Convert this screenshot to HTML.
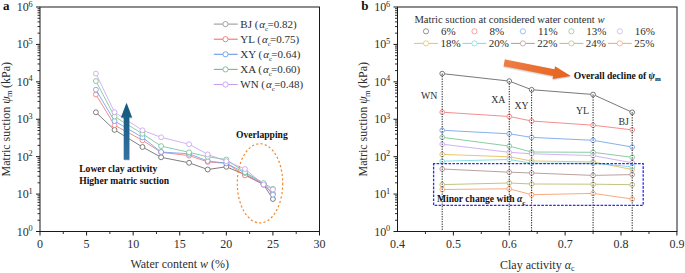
<!DOCTYPE html><html><head><meta charset="utf-8"><style>html,body{margin:0;padding:0;background:#fff;}svg{display:block;}</style></head><body>
<svg width="685" height="273" viewBox="0 0 685 273">
<rect width="685" height="273" fill="#fff"/>
<line x1="97.68" y1="113.98" x2="112.75" y2="128.22" stroke="#5e5e5e" stroke-width="0.8"/>
<line x1="116.62" y1="131.18" x2="140.39" y2="145.72" stroke="#5e5e5e" stroke-width="0.8"/>
<line x1="144.63" y1="148.19" x2="158.97" y2="156.11" stroke="#5e5e5e" stroke-width="0.8"/>
<line x1="163.52" y1="157.77" x2="186.66" y2="162.33" stroke="#5e5e5e" stroke-width="0.8"/>
<line x1="191.37" y1="163.63" x2="205.39" y2="168.67" stroke="#5e5e5e" stroke-width="0.8"/>
<line x1="210.12" y1="169.15" x2="223.91" y2="167.15" stroke="#5e5e5e" stroke-width="0.8"/>
<line x1="228.59" y1="167.75" x2="242.71" y2="173.65" stroke="#5e5e5e" stroke-width="0.8"/>
<line x1="247.12" y1="175.77" x2="261.45" y2="183.53" stroke="#5e5e5e" stroke-width="0.8"/>
<line x1="264.94" y1="186.75" x2="271.58" y2="196.95" stroke="#5e5e5e" stroke-width="0.8"/>
<circle cx="95.90" cy="112.30" r="2.45" fill="#fff" stroke="#5e5e5e" stroke-width="0.8"/>
<circle cx="114.53" cy="129.90" r="2.45" fill="#fff" stroke="#5e5e5e" stroke-width="0.8"/>
<circle cx="142.48" cy="147.00" r="2.45" fill="#fff" stroke="#5e5e5e" stroke-width="0.8"/>
<circle cx="161.12" cy="157.30" r="2.45" fill="#fff" stroke="#5e5e5e" stroke-width="0.8"/>
<circle cx="189.07" cy="162.80" r="2.45" fill="#fff" stroke="#5e5e5e" stroke-width="0.8"/>
<circle cx="207.70" cy="169.50" r="2.45" fill="#fff" stroke="#5e5e5e" stroke-width="0.8"/>
<circle cx="226.33" cy="166.80" r="2.45" fill="#fff" stroke="#5e5e5e" stroke-width="0.8"/>
<circle cx="244.97" cy="174.60" r="2.45" fill="#fff" stroke="#5e5e5e" stroke-width="0.8"/>
<circle cx="263.60" cy="184.70" r="2.45" fill="#fff" stroke="#5e5e5e" stroke-width="0.8"/>
<circle cx="272.92" cy="199.00" r="2.45" fill="#fff" stroke="#5e5e5e" stroke-width="0.8"/>
<line x1="97.17" y1="96.59" x2="113.26" y2="123.11" stroke="#f27070" stroke-width="0.8"/>
<line x1="116.69" y1="126.36" x2="140.33" y2="139.14" stroke="#f27070" stroke-width="0.8"/>
<line x1="144.54" y1="141.63" x2="159.06" y2="150.97" stroke="#f27070" stroke-width="0.8"/>
<line x1="163.55" y1="152.59" x2="186.63" y2="155.31" stroke="#f27070" stroke-width="0.8"/>
<line x1="191.39" y1="156.38" x2="205.38" y2="161.12" stroke="#f27070" stroke-width="0.8"/>
<line x1="210.14" y1="162.08" x2="223.89" y2="163.12" stroke="#f27070" stroke-width="0.8"/>
<line x1="228.39" y1="164.63" x2="242.91" y2="174.07" stroke="#f27070" stroke-width="0.8"/>
<line x1="247.18" y1="176.45" x2="261.38" y2="183.15" stroke="#f27070" stroke-width="0.8"/>
<line x1="265.34" y1="185.92" x2="271.17" y2="191.68" stroke="#f27070" stroke-width="0.8"/>
<circle cx="95.90" cy="94.50" r="2.45" fill="#fff" stroke="#f27070" stroke-width="0.8"/>
<circle cx="114.53" cy="125.20" r="2.45" fill="#fff" stroke="#f27070" stroke-width="0.8"/>
<circle cx="142.48" cy="140.30" r="2.45" fill="#fff" stroke="#f27070" stroke-width="0.8"/>
<circle cx="161.12" cy="152.30" r="2.45" fill="#fff" stroke="#f27070" stroke-width="0.8"/>
<circle cx="189.07" cy="155.60" r="2.45" fill="#fff" stroke="#f27070" stroke-width="0.8"/>
<circle cx="207.70" cy="161.90" r="2.45" fill="#fff" stroke="#f27070" stroke-width="0.8"/>
<circle cx="226.33" cy="163.30" r="2.45" fill="#fff" stroke="#f27070" stroke-width="0.8"/>
<circle cx="244.97" cy="175.40" r="2.45" fill="#fff" stroke="#f27070" stroke-width="0.8"/>
<circle cx="263.60" cy="184.20" r="2.45" fill="#fff" stroke="#f27070" stroke-width="0.8"/>
<circle cx="272.92" cy="193.40" r="2.45" fill="#fff" stroke="#f27070" stroke-width="0.8"/>
<line x1="97.15" y1="91.81" x2="113.28" y2="118.89" stroke="#6a9ae8" stroke-width="0.8"/>
<line x1="116.65" y1="122.24" x2="140.37" y2="136.16" stroke="#6a9ae8" stroke-width="0.8"/>
<line x1="144.41" y1="138.91" x2="159.19" y2="150.49" stroke="#6a9ae8" stroke-width="0.8"/>
<line x1="163.56" y1="152.16" x2="186.62" y2="153.64" stroke="#6a9ae8" stroke-width="0.8"/>
<line x1="191.35" y1="154.68" x2="205.41" y2="160.12" stroke="#6a9ae8" stroke-width="0.8"/>
<line x1="210.13" y1="161.29" x2="223.90" y2="162.91" stroke="#6a9ae8" stroke-width="0.8"/>
<line x1="228.50" y1="164.34" x2="242.80" y2="171.86" stroke="#6a9ae8" stroke-width="0.8"/>
<line x1="247.08" y1="174.25" x2="261.49" y2="182.75" stroke="#6a9ae8" stroke-width="0.8"/>
<line x1="265.21" y1="185.85" x2="271.31" y2="192.85" stroke="#6a9ae8" stroke-width="0.8"/>
<circle cx="95.90" cy="89.70" r="2.45" fill="#fff" stroke="#6a9ae8" stroke-width="0.8"/>
<circle cx="114.53" cy="121.00" r="2.45" fill="#fff" stroke="#6a9ae8" stroke-width="0.8"/>
<circle cx="142.48" cy="137.40" r="2.45" fill="#fff" stroke="#6a9ae8" stroke-width="0.8"/>
<circle cx="161.12" cy="152.00" r="2.45" fill="#fff" stroke="#6a9ae8" stroke-width="0.8"/>
<circle cx="189.07" cy="153.80" r="2.45" fill="#fff" stroke="#6a9ae8" stroke-width="0.8"/>
<circle cx="207.70" cy="161.00" r="2.45" fill="#fff" stroke="#6a9ae8" stroke-width="0.8"/>
<circle cx="226.33" cy="163.20" r="2.45" fill="#fff" stroke="#6a9ae8" stroke-width="0.8"/>
<circle cx="244.97" cy="173.00" r="2.45" fill="#fff" stroke="#6a9ae8" stroke-width="0.8"/>
<circle cx="263.60" cy="184.00" r="2.45" fill="#fff" stroke="#6a9ae8" stroke-width="0.8"/>
<circle cx="272.92" cy="194.70" r="2.45" fill="#fff" stroke="#6a9ae8" stroke-width="0.8"/>
<line x1="97.04" y1="83.27" x2="113.39" y2="114.33" stroke="#6cbf8c" stroke-width="0.8"/>
<line x1="116.62" y1="117.79" x2="140.40" y2="132.51" stroke="#6cbf8c" stroke-width="0.8"/>
<line x1="144.53" y1="135.15" x2="159.07" y2="144.75" stroke="#6cbf8c" stroke-width="0.8"/>
<line x1="163.51" y1="146.63" x2="186.67" y2="151.77" stroke="#6cbf8c" stroke-width="0.8"/>
<line x1="191.45" y1="152.88" x2="205.32" y2="156.22" stroke="#6cbf8c" stroke-width="0.8"/>
<line x1="210.12" y1="157.15" x2="223.91" y2="159.15" stroke="#6cbf8c" stroke-width="0.8"/>
<line x1="228.36" y1="160.88" x2="242.94" y2="170.82" stroke="#6cbf8c" stroke-width="0.8"/>
<line x1="247.09" y1="173.43" x2="261.48" y2="181.77" stroke="#6cbf8c" stroke-width="0.8"/>
<line x1="265.68" y1="184.29" x2="270.84" y2="187.51" stroke="#6cbf8c" stroke-width="0.8"/>
<circle cx="95.90" cy="81.10" r="2.45" fill="#fff" stroke="#6cbf8c" stroke-width="0.8"/>
<circle cx="114.53" cy="116.50" r="2.45" fill="#fff" stroke="#6cbf8c" stroke-width="0.8"/>
<circle cx="142.48" cy="133.80" r="2.45" fill="#fff" stroke="#6cbf8c" stroke-width="0.8"/>
<circle cx="161.12" cy="146.10" r="2.45" fill="#fff" stroke="#6cbf8c" stroke-width="0.8"/>
<circle cx="189.07" cy="152.30" r="2.45" fill="#fff" stroke="#6cbf8c" stroke-width="0.8"/>
<circle cx="207.70" cy="156.80" r="2.45" fill="#fff" stroke="#6cbf8c" stroke-width="0.8"/>
<circle cx="226.33" cy="159.50" r="2.45" fill="#fff" stroke="#6cbf8c" stroke-width="0.8"/>
<circle cx="244.97" cy="172.20" r="2.45" fill="#fff" stroke="#6cbf8c" stroke-width="0.8"/>
<circle cx="263.60" cy="183.00" r="2.45" fill="#fff" stroke="#6cbf8c" stroke-width="0.8"/>
<circle cx="272.92" cy="188.80" r="2.45" fill="#fff" stroke="#6cbf8c" stroke-width="0.8"/>
<line x1="96.97" y1="75.81" x2="113.47" y2="109.99" stroke="#c4a0ee" stroke-width="0.8"/>
<line x1="116.59" y1="113.53" x2="140.43" y2="128.97" stroke="#c4a0ee" stroke-width="0.8"/>
<line x1="144.78" y1="131.16" x2="158.82" y2="136.44" stroke="#c4a0ee" stroke-width="0.8"/>
<line x1="163.50" y1="137.89" x2="186.69" y2="143.61" stroke="#c4a0ee" stroke-width="0.8"/>
<line x1="191.22" y1="145.38" x2="205.55" y2="153.22" stroke="#c4a0ee" stroke-width="0.8"/>
<line x1="210.00" y1="155.24" x2="224.03" y2="160.36" stroke="#c4a0ee" stroke-width="0.8"/>
<line x1="228.59" y1="162.15" x2="242.71" y2="168.05" stroke="#c4a0ee" stroke-width="0.8"/>
<line x1="246.85" y1="170.57" x2="261.72" y2="183.03" stroke="#c4a0ee" stroke-width="0.8"/>
<line x1="265.77" y1="185.74" x2="270.75" y2="188.36" stroke="#c4a0ee" stroke-width="0.8"/>
<circle cx="95.90" cy="73.60" r="2.45" fill="#fff" stroke="#c4a0ee" stroke-width="0.8"/>
<circle cx="114.53" cy="112.20" r="2.45" fill="#fff" stroke="#c4a0ee" stroke-width="0.8"/>
<circle cx="142.48" cy="130.30" r="2.45" fill="#fff" stroke="#c4a0ee" stroke-width="0.8"/>
<circle cx="161.12" cy="137.30" r="2.45" fill="#fff" stroke="#c4a0ee" stroke-width="0.8"/>
<circle cx="189.07" cy="144.20" r="2.45" fill="#fff" stroke="#c4a0ee" stroke-width="0.8"/>
<circle cx="207.70" cy="154.40" r="2.45" fill="#fff" stroke="#c4a0ee" stroke-width="0.8"/>
<circle cx="226.33" cy="161.20" r="2.45" fill="#fff" stroke="#c4a0ee" stroke-width="0.8"/>
<circle cx="244.97" cy="169.00" r="2.45" fill="#fff" stroke="#c4a0ee" stroke-width="0.8"/>
<circle cx="263.60" cy="184.60" r="2.45" fill="#fff" stroke="#c4a0ee" stroke-width="0.8"/>
<circle cx="272.92" cy="189.50" r="2.45" fill="#fff" stroke="#c4a0ee" stroke-width="0.8"/>
<rect x="40.0" y="7.0" width="279.5" height="224.5" fill="none" stroke="#1a1a1a" stroke-width="1"/>
<line x1="36.00" y1="231.50" x2="40.00" y2="231.50" stroke="#1a1a1a" stroke-width="1"/>
<line x1="37.50" y1="220.24" x2="40.00" y2="220.24" stroke="#1a1a1a" stroke-width="0.9"/>
<line x1="37.50" y1="213.65" x2="40.00" y2="213.65" stroke="#1a1a1a" stroke-width="0.9"/>
<line x1="37.50" y1="208.97" x2="40.00" y2="208.97" stroke="#1a1a1a" stroke-width="0.9"/>
<line x1="37.50" y1="205.35" x2="40.00" y2="205.35" stroke="#1a1a1a" stroke-width="0.9"/>
<line x1="37.50" y1="202.38" x2="40.00" y2="202.38" stroke="#1a1a1a" stroke-width="0.9"/>
<line x1="37.50" y1="199.88" x2="40.00" y2="199.88" stroke="#1a1a1a" stroke-width="0.9"/>
<line x1="37.50" y1="197.71" x2="40.00" y2="197.71" stroke="#1a1a1a" stroke-width="0.9"/>
<line x1="37.50" y1="195.80" x2="40.00" y2="195.80" stroke="#1a1a1a" stroke-width="0.9"/>
<text x="28.70" y="235.50" font-size="12" text-anchor="end" font-family="'Liberation Serif', serif" fill="#2e2e2e">10</text>
<text x="28.60" y="231.10" font-size="8.3" font-family="'Liberation Serif', serif" fill="#2e2e2e">0</text>
<line x1="36.00" y1="194.08" x2="40.00" y2="194.08" stroke="#1a1a1a" stroke-width="1"/>
<line x1="37.50" y1="182.82" x2="40.00" y2="182.82" stroke="#1a1a1a" stroke-width="0.9"/>
<line x1="37.50" y1="176.23" x2="40.00" y2="176.23" stroke="#1a1a1a" stroke-width="0.9"/>
<line x1="37.50" y1="171.56" x2="40.00" y2="171.56" stroke="#1a1a1a" stroke-width="0.9"/>
<line x1="37.50" y1="167.93" x2="40.00" y2="167.93" stroke="#1a1a1a" stroke-width="0.9"/>
<line x1="37.50" y1="164.97" x2="40.00" y2="164.97" stroke="#1a1a1a" stroke-width="0.9"/>
<line x1="37.50" y1="162.46" x2="40.00" y2="162.46" stroke="#1a1a1a" stroke-width="0.9"/>
<line x1="37.50" y1="160.29" x2="40.00" y2="160.29" stroke="#1a1a1a" stroke-width="0.9"/>
<line x1="37.50" y1="158.38" x2="40.00" y2="158.38" stroke="#1a1a1a" stroke-width="0.9"/>
<text x="28.70" y="198.08" font-size="12" text-anchor="end" font-family="'Liberation Serif', serif" fill="#2e2e2e">10</text>
<text x="28.60" y="193.68" font-size="8.3" font-family="'Liberation Serif', serif" fill="#2e2e2e">1</text>
<line x1="36.00" y1="156.67" x2="40.00" y2="156.67" stroke="#1a1a1a" stroke-width="1"/>
<line x1="37.50" y1="145.40" x2="40.00" y2="145.40" stroke="#1a1a1a" stroke-width="0.9"/>
<line x1="37.50" y1="138.81" x2="40.00" y2="138.81" stroke="#1a1a1a" stroke-width="0.9"/>
<line x1="37.50" y1="134.14" x2="40.00" y2="134.14" stroke="#1a1a1a" stroke-width="0.9"/>
<line x1="37.50" y1="130.51" x2="40.00" y2="130.51" stroke="#1a1a1a" stroke-width="0.9"/>
<line x1="37.50" y1="127.55" x2="40.00" y2="127.55" stroke="#1a1a1a" stroke-width="0.9"/>
<line x1="37.50" y1="125.05" x2="40.00" y2="125.05" stroke="#1a1a1a" stroke-width="0.9"/>
<line x1="37.50" y1="122.88" x2="40.00" y2="122.88" stroke="#1a1a1a" stroke-width="0.9"/>
<line x1="37.50" y1="120.96" x2="40.00" y2="120.96" stroke="#1a1a1a" stroke-width="0.9"/>
<text x="28.70" y="160.67" font-size="12" text-anchor="end" font-family="'Liberation Serif', serif" fill="#2e2e2e">10</text>
<text x="28.60" y="156.27" font-size="8.3" font-family="'Liberation Serif', serif" fill="#2e2e2e">2</text>
<line x1="36.00" y1="119.25" x2="40.00" y2="119.25" stroke="#1a1a1a" stroke-width="1"/>
<line x1="37.50" y1="107.99" x2="40.00" y2="107.99" stroke="#1a1a1a" stroke-width="0.9"/>
<line x1="37.50" y1="101.40" x2="40.00" y2="101.40" stroke="#1a1a1a" stroke-width="0.9"/>
<line x1="37.50" y1="96.72" x2="40.00" y2="96.72" stroke="#1a1a1a" stroke-width="0.9"/>
<line x1="37.50" y1="93.10" x2="40.00" y2="93.10" stroke="#1a1a1a" stroke-width="0.9"/>
<line x1="37.50" y1="90.13" x2="40.00" y2="90.13" stroke="#1a1a1a" stroke-width="0.9"/>
<line x1="37.50" y1="87.63" x2="40.00" y2="87.63" stroke="#1a1a1a" stroke-width="0.9"/>
<line x1="37.50" y1="85.46" x2="40.00" y2="85.46" stroke="#1a1a1a" stroke-width="0.9"/>
<line x1="37.50" y1="83.55" x2="40.00" y2="83.55" stroke="#1a1a1a" stroke-width="0.9"/>
<text x="28.70" y="123.25" font-size="12" text-anchor="end" font-family="'Liberation Serif', serif" fill="#2e2e2e">10</text>
<text x="28.60" y="118.85" font-size="8.3" font-family="'Liberation Serif', serif" fill="#2e2e2e">3</text>
<line x1="36.00" y1="81.83" x2="40.00" y2="81.83" stroke="#1a1a1a" stroke-width="1"/>
<line x1="37.50" y1="70.57" x2="40.00" y2="70.57" stroke="#1a1a1a" stroke-width="0.9"/>
<line x1="37.50" y1="63.98" x2="40.00" y2="63.98" stroke="#1a1a1a" stroke-width="0.9"/>
<line x1="37.50" y1="59.31" x2="40.00" y2="59.31" stroke="#1a1a1a" stroke-width="0.9"/>
<line x1="37.50" y1="55.68" x2="40.00" y2="55.68" stroke="#1a1a1a" stroke-width="0.9"/>
<line x1="37.50" y1="52.72" x2="40.00" y2="52.72" stroke="#1a1a1a" stroke-width="0.9"/>
<line x1="37.50" y1="50.21" x2="40.00" y2="50.21" stroke="#1a1a1a" stroke-width="0.9"/>
<line x1="37.50" y1="48.04" x2="40.00" y2="48.04" stroke="#1a1a1a" stroke-width="0.9"/>
<line x1="37.50" y1="46.13" x2="40.00" y2="46.13" stroke="#1a1a1a" stroke-width="0.9"/>
<text x="28.70" y="85.83" font-size="12" text-anchor="end" font-family="'Liberation Serif', serif" fill="#2e2e2e">10</text>
<text x="28.60" y="81.43" font-size="8.3" font-family="'Liberation Serif', serif" fill="#2e2e2e">4</text>
<line x1="36.00" y1="44.42" x2="40.00" y2="44.42" stroke="#1a1a1a" stroke-width="1"/>
<line x1="37.50" y1="33.15" x2="40.00" y2="33.15" stroke="#1a1a1a" stroke-width="0.9"/>
<line x1="37.50" y1="26.56" x2="40.00" y2="26.56" stroke="#1a1a1a" stroke-width="0.9"/>
<line x1="37.50" y1="21.89" x2="40.00" y2="21.89" stroke="#1a1a1a" stroke-width="0.9"/>
<line x1="37.50" y1="18.26" x2="40.00" y2="18.26" stroke="#1a1a1a" stroke-width="0.9"/>
<line x1="37.50" y1="15.30" x2="40.00" y2="15.30" stroke="#1a1a1a" stroke-width="0.9"/>
<line x1="37.50" y1="12.80" x2="40.00" y2="12.80" stroke="#1a1a1a" stroke-width="0.9"/>
<line x1="37.50" y1="10.63" x2="40.00" y2="10.63" stroke="#1a1a1a" stroke-width="0.9"/>
<line x1="37.50" y1="8.71" x2="40.00" y2="8.71" stroke="#1a1a1a" stroke-width="0.9"/>
<text x="28.70" y="48.42" font-size="12" text-anchor="end" font-family="'Liberation Serif', serif" fill="#2e2e2e">10</text>
<text x="28.60" y="44.02" font-size="8.3" font-family="'Liberation Serif', serif" fill="#2e2e2e">5</text>
<line x1="36.00" y1="7.00" x2="40.00" y2="7.00" stroke="#1a1a1a" stroke-width="1"/>
<text x="28.70" y="11.00" font-size="12" text-anchor="end" font-family="'Liberation Serif', serif" fill="#2e2e2e">10</text>
<text x="28.60" y="6.60" font-size="8.3" font-family="'Liberation Serif', serif" fill="#2e2e2e">6</text>
<line x1="40.00" y1="231.5" x2="40.00" y2="235.5" stroke="#1a1a1a" stroke-width="1"/>
<text x="40.00" y="248.10" font-size="12" text-anchor="middle" font-family="'Liberation Serif', serif" fill="#2e2e2e">0</text>
<line x1="86.58" y1="231.5" x2="86.58" y2="235.5" stroke="#1a1a1a" stroke-width="1"/>
<text x="86.58" y="248.10" font-size="12" text-anchor="middle" font-family="'Liberation Serif', serif" fill="#2e2e2e">5</text>
<line x1="133.17" y1="231.5" x2="133.17" y2="235.5" stroke="#1a1a1a" stroke-width="1"/>
<text x="133.17" y="248.10" font-size="12" text-anchor="middle" font-family="'Liberation Serif', serif" fill="#2e2e2e">10</text>
<line x1="179.75" y1="231.5" x2="179.75" y2="235.5" stroke="#1a1a1a" stroke-width="1"/>
<text x="179.75" y="248.10" font-size="12" text-anchor="middle" font-family="'Liberation Serif', serif" fill="#2e2e2e">15</text>
<line x1="226.33" y1="231.5" x2="226.33" y2="235.5" stroke="#1a1a1a" stroke-width="1"/>
<text x="226.33" y="248.10" font-size="12" text-anchor="middle" font-family="'Liberation Serif', serif" fill="#2e2e2e">20</text>
<line x1="272.92" y1="231.5" x2="272.92" y2="235.5" stroke="#1a1a1a" stroke-width="1"/>
<text x="272.92" y="248.10" font-size="12" text-anchor="middle" font-family="'Liberation Serif', serif" fill="#2e2e2e">25</text>
<line x1="319.50" y1="231.5" x2="319.50" y2="235.5" stroke="#1a1a1a" stroke-width="1"/>
<text x="319.50" y="248.10" font-size="12" text-anchor="middle" font-family="'Liberation Serif', serif" fill="#2e2e2e">30</text>
<line x1="63.29" y1="231.5" x2="63.29" y2="234.0" stroke="#1a1a1a" stroke-width="0.9"/>
<line x1="109.88" y1="231.5" x2="109.88" y2="234.0" stroke="#1a1a1a" stroke-width="0.9"/>
<line x1="156.46" y1="231.5" x2="156.46" y2="234.0" stroke="#1a1a1a" stroke-width="0.9"/>
<line x1="203.04" y1="231.5" x2="203.04" y2="234.0" stroke="#1a1a1a" stroke-width="0.9"/>
<line x1="249.62" y1="231.5" x2="249.62" y2="234.0" stroke="#1a1a1a" stroke-width="0.9"/>
<line x1="296.21" y1="231.5" x2="296.21" y2="234.0" stroke="#1a1a1a" stroke-width="0.9"/>
<text x="179.75" y="267.5" font-size="12" text-anchor="middle" font-family="'Liberation Serif', serif" fill="#2e2e2e">Water content <tspan font-style="italic">w</tspan> (%)</text>
<text transform="translate(9.8,119.2) rotate(-90)" font-size="12" text-anchor="middle" font-family="'Liberation Serif', serif" fill="#2e2e2e">Matric suction <tspan font-style="italic">ψ</tspan><tspan font-size="8.6" dy="2.2" dx="-0.6">m</tspan><tspan dy="-2.2" dx="-0.7"> (kPa)</tspan></text>
<text x="3" y="9.7" font-size="13" font-weight="bold" font-family="'Liberation Serif', serif" fill="#111">a</text>
<line x1="213.8" y1="24.10" x2="222.90" y2="24.10" stroke="#9a9a9a" stroke-width="1.1"/>
<line x1="228.10" y1="24.10" x2="237.7" y2="24.10" stroke="#9a9a9a" stroke-width="1.1"/>
<circle cx="225.5" cy="24.10" r="2.6" fill="#fff" stroke="#9a9a9a" stroke-width="0.9"/>
<text x="240.3" y="27.70" font-size="11" font-family="'Liberation Serif', serif" fill="#2e2e2e">BJ (<tspan font-style="italic" dx="1">α</tspan><tspan font-size="7" dy="3">c</tspan><tspan dy="-3" dx="-0.8">=</tspan>0.82)</text>
<line x1="213.8" y1="39.20" x2="222.90" y2="39.20" stroke="#f27070" stroke-width="1.1"/>
<line x1="228.10" y1="39.20" x2="237.7" y2="39.20" stroke="#f27070" stroke-width="1.1"/>
<circle cx="225.5" cy="39.20" r="2.6" fill="#fff" stroke="#f27070" stroke-width="0.9"/>
<text x="240.3" y="42.80" font-size="11" font-family="'Liberation Serif', serif" fill="#2e2e2e">YL (<tspan font-style="italic" dx="1">α</tspan><tspan font-size="7" dy="3">c</tspan><tspan dy="-3" dx="-0.8">=</tspan>0.75)</text>
<line x1="213.8" y1="54.30" x2="222.90" y2="54.30" stroke="#6a9ae8" stroke-width="1.1"/>
<line x1="228.10" y1="54.30" x2="237.7" y2="54.30" stroke="#6a9ae8" stroke-width="1.1"/>
<circle cx="225.5" cy="54.30" r="2.6" fill="#fff" stroke="#6a9ae8" stroke-width="0.9"/>
<text x="240.3" y="57.90" font-size="11" font-family="'Liberation Serif', serif" fill="#2e2e2e">XY (<tspan font-style="italic" dx="1">α</tspan><tspan font-size="7" dy="3">c</tspan><tspan dy="-3" dx="-0.8">=</tspan>0.64)</text>
<line x1="213.8" y1="69.40" x2="222.90" y2="69.40" stroke="#6cbf8c" stroke-width="1.1"/>
<line x1="228.10" y1="69.40" x2="237.7" y2="69.40" stroke="#6cbf8c" stroke-width="1.1"/>
<circle cx="225.5" cy="69.40" r="2.6" fill="#fff" stroke="#6cbf8c" stroke-width="0.9"/>
<text x="240.3" y="73.00" font-size="11" font-family="'Liberation Serif', serif" fill="#2e2e2e">XA (<tspan font-style="italic" dx="1">α</tspan><tspan font-size="7" dy="3">c</tspan><tspan dy="-3" dx="-0.8">=</tspan>0.60)</text>
<line x1="213.8" y1="84.50" x2="222.90" y2="84.50" stroke="#c4a0ee" stroke-width="1.1"/>
<line x1="228.10" y1="84.50" x2="237.7" y2="84.50" stroke="#c4a0ee" stroke-width="1.1"/>
<circle cx="225.5" cy="84.50" r="2.6" fill="#fff" stroke="#c4a0ee" stroke-width="0.9"/>
<text x="240.3" y="88.10" font-size="11" font-family="'Liberation Serif', serif" fill="#2e2e2e">WN (<tspan font-style="italic" dx="1">α</tspan><tspan font-size="7" dy="3">c</tspan><tspan dy="-3" dx="-0.8">=</tspan>0.48)</text>
<defs><linearGradient id="ga" x1="0" y1="1" x2="0" y2="0"><stop offset="0" stop-color="#3672a0"/><stop offset="0.5" stop-color="#22668f"/><stop offset="1" stop-color="#14587e"/></linearGradient><filter id="blur1" x="-20%" y="-50%" width="140%" height="200%"><feGaussianBlur stdDeviation="0.6"/></filter><linearGradient id="go" x1="0" y1="0" x2="1" y2="0"><stop offset="0" stop-color="#ee7d45"/><stop offset="1" stop-color="#e8611c"/></linearGradient></defs>
<polygon points="123.7,159.7 129.3,159.7 129.3,117.6 132.1,117.6 126.5,102.7 120.9,117.6 123.7,117.6" fill="#777" opacity="0.3" transform="translate(0.6,0.8)" filter="url(#blur1)"/>
<polygon points="123.7,159.7 129.3,159.7 129.3,117.6 132.1,117.6 126.5,102.7 120.9,117.6 123.7,117.6" fill="url(#ga)"/>
<text x="79.2" y="172.3" font-size="9.6" font-weight="bold" font-family="'Liberation Serif', serif" fill="#111">Lower clay activity</text>
<text x="79.2" y="184.0" font-size="9.6" font-weight="bold" font-family="'Liberation Serif', serif" fill="#111">Higher matric suction</text>
<text x="236" y="138.2" font-size="9.6" font-weight="bold" font-family="'Liberation Serif', serif" fill="#111">Overlapping</text>
<ellipse cx="260" cy="183.3" rx="22.7" ry="39.6" fill="none" stroke="#f08a30" stroke-width="1.2" stroke-dasharray="2.2,2.2"/>
<line x1="444.54" y1="73.86" x2="506.92" y2="80.84" stroke="#555555" stroke-width="0.8"/>
<line x1="511.45" y1="81.94" x2="529.42" y2="88.86" stroke="#555555" stroke-width="0.8"/>
<line x1="533.95" y1="89.88" x2="590.74" y2="94.32" stroke="#555555" stroke-width="0.8"/>
<line x1="595.22" y1="95.47" x2="630.06" y2="111.33" stroke="#555555" stroke-width="0.8"/>
<circle cx="442.20" cy="73.60" r="2.35" fill="#fff" stroke="#555555" stroke-width="0.8"/>
<circle cx="509.26" cy="81.10" r="2.35" fill="#fff" stroke="#555555" stroke-width="0.8"/>
<circle cx="531.61" cy="89.70" r="2.35" fill="#fff" stroke="#555555" stroke-width="0.8"/>
<circle cx="593.08" cy="94.50" r="2.35" fill="#fff" stroke="#555555" stroke-width="0.8"/>
<circle cx="632.20" cy="112.30" r="2.35" fill="#fff" stroke="#555555" stroke-width="0.8"/>
<line x1="444.55" y1="112.35" x2="506.91" y2="116.35" stroke="#f27070" stroke-width="0.8"/>
<line x1="511.56" y1="116.96" x2="529.31" y2="120.54" stroke="#f27070" stroke-width="0.8"/>
<line x1="533.96" y1="121.16" x2="590.74" y2="125.04" stroke="#f27070" stroke-width="0.8"/>
<line x1="595.41" y1="125.48" x2="629.86" y2="129.62" stroke="#f27070" stroke-width="0.8"/>
<circle cx="442.20" cy="112.20" r="2.35" fill="#fff" stroke="#f27070" stroke-width="0.8"/>
<circle cx="509.26" cy="116.50" r="2.35" fill="#fff" stroke="#f27070" stroke-width="0.8"/>
<circle cx="531.61" cy="121.00" r="2.35" fill="#fff" stroke="#f27070" stroke-width="0.8"/>
<circle cx="593.08" cy="125.20" r="2.35" fill="#fff" stroke="#f27070" stroke-width="0.8"/>
<circle cx="632.20" cy="129.90" r="2.35" fill="#fff" stroke="#f27070" stroke-width="0.8"/>
<line x1="444.55" y1="130.42" x2="506.91" y2="133.68" stroke="#6a9ae8" stroke-width="0.8"/>
<line x1="511.58" y1="134.17" x2="529.29" y2="137.03" stroke="#6a9ae8" stroke-width="0.8"/>
<line x1="533.96" y1="137.51" x2="590.73" y2="140.19" stroke="#6a9ae8" stroke-width="0.8"/>
<line x1="595.40" y1="140.70" x2="629.88" y2="146.60" stroke="#6a9ae8" stroke-width="0.8"/>
<circle cx="442.20" cy="130.30" r="2.35" fill="#fff" stroke="#6a9ae8" stroke-width="0.8"/>
<circle cx="509.26" cy="133.80" r="2.35" fill="#fff" stroke="#6a9ae8" stroke-width="0.8"/>
<circle cx="531.61" cy="137.40" r="2.35" fill="#fff" stroke="#6a9ae8" stroke-width="0.8"/>
<circle cx="593.08" cy="140.30" r="2.35" fill="#fff" stroke="#6a9ae8" stroke-width="0.8"/>
<circle cx="632.20" cy="147.00" r="2.35" fill="#fff" stroke="#6a9ae8" stroke-width="0.8"/>
<line x1="444.53" y1="137.61" x2="506.93" y2="145.79" stroke="#6cbf8c" stroke-width="0.8"/>
<line x1="511.53" y1="146.70" x2="529.34" y2="151.40" stroke="#6cbf8c" stroke-width="0.8"/>
<line x1="533.96" y1="152.01" x2="590.73" y2="152.29" stroke="#6cbf8c" stroke-width="0.8"/>
<line x1="595.41" y1="152.60" x2="629.86" y2="157.00" stroke="#6cbf8c" stroke-width="0.8"/>
<circle cx="442.20" cy="137.30" r="2.35" fill="#fff" stroke="#6cbf8c" stroke-width="0.8"/>
<circle cx="509.26" cy="146.10" r="2.35" fill="#fff" stroke="#6cbf8c" stroke-width="0.8"/>
<circle cx="531.61" cy="152.00" r="2.35" fill="#fff" stroke="#6cbf8c" stroke-width="0.8"/>
<circle cx="593.08" cy="152.30" r="2.35" fill="#fff" stroke="#6cbf8c" stroke-width="0.8"/>
<circle cx="632.20" cy="157.30" r="2.35" fill="#fff" stroke="#6cbf8c" stroke-width="0.8"/>
<line x1="444.54" y1="144.48" x2="506.93" y2="152.02" stroke="#c4a0ee" stroke-width="0.8"/>
<line x1="511.60" y1="152.46" x2="529.27" y2="153.64" stroke="#c4a0ee" stroke-width="0.8"/>
<line x1="533.96" y1="153.87" x2="590.73" y2="155.53" stroke="#c4a0ee" stroke-width="0.8"/>
<line x1="595.39" y1="156.03" x2="629.88" y2="162.37" stroke="#c4a0ee" stroke-width="0.8"/>
<circle cx="442.20" cy="144.20" r="2.35" fill="#fff" stroke="#c4a0ee" stroke-width="0.8"/>
<circle cx="509.26" cy="152.30" r="2.35" fill="#fff" stroke="#c4a0ee" stroke-width="0.8"/>
<circle cx="531.61" cy="153.80" r="2.35" fill="#fff" stroke="#c4a0ee" stroke-width="0.8"/>
<circle cx="593.08" cy="155.60" r="2.35" fill="#fff" stroke="#c4a0ee" stroke-width="0.8"/>
<circle cx="632.20" cy="162.80" r="2.35" fill="#fff" stroke="#c4a0ee" stroke-width="0.8"/>
<line x1="444.55" y1="154.48" x2="506.91" y2="156.72" stroke="#e2b84a" stroke-width="0.8"/>
<line x1="511.57" y1="157.23" x2="529.30" y2="160.57" stroke="#e2b84a" stroke-width="0.8"/>
<line x1="533.96" y1="161.03" x2="590.73" y2="161.87" stroke="#e2b84a" stroke-width="0.8"/>
<line x1="595.39" y1="162.35" x2="629.89" y2="169.05" stroke="#e2b84a" stroke-width="0.8"/>
<circle cx="442.20" cy="154.40" r="2.35" fill="#fff" stroke="#e2b84a" stroke-width="0.8"/>
<circle cx="509.26" cy="156.80" r="2.35" fill="#fff" stroke="#e2b84a" stroke-width="0.8"/>
<circle cx="531.61" cy="161.00" r="2.35" fill="#fff" stroke="#e2b84a" stroke-width="0.8"/>
<circle cx="593.08" cy="161.90" r="2.35" fill="#fff" stroke="#e2b84a" stroke-width="0.8"/>
<circle cx="632.20" cy="169.50" r="2.35" fill="#fff" stroke="#e2b84a" stroke-width="0.8"/>
<line x1="444.55" y1="161.14" x2="506.91" y2="159.56" stroke="#66d6e0" stroke-width="0.8"/>
<line x1="511.58" y1="159.88" x2="529.29" y2="162.82" stroke="#66d6e0" stroke-width="0.8"/>
<line x1="533.96" y1="163.20" x2="590.73" y2="163.30" stroke="#66d6e0" stroke-width="0.8"/>
<line x1="595.42" y1="163.51" x2="629.86" y2="166.59" stroke="#66d6e0" stroke-width="0.8"/>
<circle cx="442.20" cy="161.20" r="2.35" fill="#fff" stroke="#66d6e0" stroke-width="0.8"/>
<circle cx="509.26" cy="159.50" r="2.35" fill="#fff" stroke="#66d6e0" stroke-width="0.8"/>
<circle cx="531.61" cy="163.20" r="2.35" fill="#fff" stroke="#66d6e0" stroke-width="0.8"/>
<circle cx="593.08" cy="163.30" r="2.35" fill="#fff" stroke="#66d6e0" stroke-width="0.8"/>
<circle cx="632.20" cy="166.80" r="2.35" fill="#fff" stroke="#66d6e0" stroke-width="0.8"/>
<line x1="444.55" y1="169.11" x2="506.91" y2="172.09" stroke="#a88888" stroke-width="0.8"/>
<line x1="511.61" y1="172.28" x2="529.26" y2="172.92" stroke="#a88888" stroke-width="0.8"/>
<line x1="533.96" y1="173.09" x2="590.73" y2="175.31" stroke="#a88888" stroke-width="0.8"/>
<line x1="595.43" y1="175.35" x2="629.85" y2="174.65" stroke="#a88888" stroke-width="0.8"/>
<circle cx="442.20" cy="169.00" r="2.35" fill="#fff" stroke="#a88888" stroke-width="0.8"/>
<circle cx="509.26" cy="172.20" r="2.35" fill="#fff" stroke="#a88888" stroke-width="0.8"/>
<circle cx="531.61" cy="173.00" r="2.35" fill="#fff" stroke="#a88888" stroke-width="0.8"/>
<circle cx="593.08" cy="175.40" r="2.35" fill="#fff" stroke="#a88888" stroke-width="0.8"/>
<circle cx="632.20" cy="174.60" r="2.35" fill="#fff" stroke="#a88888" stroke-width="0.8"/>
<line x1="444.55" y1="184.54" x2="506.91" y2="183.06" stroke="#b4b462" stroke-width="0.8"/>
<line x1="511.61" y1="183.11" x2="529.26" y2="183.89" stroke="#b4b462" stroke-width="0.8"/>
<line x1="533.96" y1="184.01" x2="590.73" y2="184.19" stroke="#b4b462" stroke-width="0.8"/>
<line x1="595.43" y1="184.23" x2="629.85" y2="184.67" stroke="#b4b462" stroke-width="0.8"/>
<circle cx="442.20" cy="184.60" r="2.35" fill="#fff" stroke="#b4b462" stroke-width="0.8"/>
<circle cx="509.26" cy="183.00" r="2.35" fill="#fff" stroke="#b4b462" stroke-width="0.8"/>
<circle cx="531.61" cy="184.00" r="2.35" fill="#fff" stroke="#b4b462" stroke-width="0.8"/>
<circle cx="593.08" cy="184.20" r="2.35" fill="#fff" stroke="#b4b462" stroke-width="0.8"/>
<circle cx="632.20" cy="184.70" r="2.35" fill="#fff" stroke="#b4b462" stroke-width="0.8"/>
<line x1="444.55" y1="189.48" x2="506.91" y2="188.82" stroke="#f59560" stroke-width="0.8"/>
<line x1="511.53" y1="189.40" x2="529.34" y2="194.10" stroke="#f59560" stroke-width="0.8"/>
<line x1="533.96" y1="194.65" x2="590.73" y2="193.45" stroke="#f59560" stroke-width="0.8"/>
<line x1="595.41" y1="193.73" x2="629.87" y2="198.67" stroke="#f59560" stroke-width="0.8"/>
<circle cx="442.20" cy="189.50" r="2.35" fill="#fff" stroke="#f59560" stroke-width="0.8"/>
<circle cx="509.26" cy="188.80" r="2.35" fill="#fff" stroke="#f59560" stroke-width="0.8"/>
<circle cx="531.61" cy="194.70" r="2.35" fill="#fff" stroke="#f59560" stroke-width="0.8"/>
<circle cx="593.08" cy="193.40" r="2.35" fill="#fff" stroke="#f59560" stroke-width="0.8"/>
<circle cx="632.20" cy="199.00" r="2.35" fill="#fff" stroke="#f59560" stroke-width="0.8"/>
<line x1="442.20" y1="73.60" x2="442.20" y2="231.50" stroke="#111" stroke-width="1" stroke-dasharray="1.2,1.3"/>
<line x1="509.26" y1="81.10" x2="509.26" y2="231.50" stroke="#111" stroke-width="1" stroke-dasharray="1.2,1.3"/>
<line x1="531.61" y1="89.70" x2="531.61" y2="231.50" stroke="#111" stroke-width="1" stroke-dasharray="1.2,1.3"/>
<line x1="593.08" y1="94.50" x2="593.08" y2="231.50" stroke="#111" stroke-width="1" stroke-dasharray="1.2,1.3"/>
<line x1="632.20" y1="112.30" x2="632.20" y2="231.50" stroke="#111" stroke-width="1" stroke-dasharray="1.2,1.3"/>
<rect x="397.5" y="7.0" width="279.5" height="224.5" fill="none" stroke="#1a1a1a" stroke-width="1"/>
<line x1="393.50" y1="231.50" x2="397.50" y2="231.50" stroke="#1a1a1a" stroke-width="1"/>
<line x1="395.00" y1="220.24" x2="397.50" y2="220.24" stroke="#1a1a1a" stroke-width="0.9"/>
<line x1="395.00" y1="213.65" x2="397.50" y2="213.65" stroke="#1a1a1a" stroke-width="0.9"/>
<line x1="395.00" y1="208.97" x2="397.50" y2="208.97" stroke="#1a1a1a" stroke-width="0.9"/>
<line x1="395.00" y1="205.35" x2="397.50" y2="205.35" stroke="#1a1a1a" stroke-width="0.9"/>
<line x1="395.00" y1="202.38" x2="397.50" y2="202.38" stroke="#1a1a1a" stroke-width="0.9"/>
<line x1="395.00" y1="199.88" x2="397.50" y2="199.88" stroke="#1a1a1a" stroke-width="0.9"/>
<line x1="395.00" y1="197.71" x2="397.50" y2="197.71" stroke="#1a1a1a" stroke-width="0.9"/>
<line x1="395.00" y1="195.80" x2="397.50" y2="195.80" stroke="#1a1a1a" stroke-width="0.9"/>
<text x="386.20" y="235.50" font-size="12" text-anchor="end" font-family="'Liberation Serif', serif" fill="#2e2e2e">10</text>
<text x="386.10" y="231.10" font-size="8.3" font-family="'Liberation Serif', serif" fill="#2e2e2e">0</text>
<line x1="393.50" y1="194.08" x2="397.50" y2="194.08" stroke="#1a1a1a" stroke-width="1"/>
<line x1="395.00" y1="182.82" x2="397.50" y2="182.82" stroke="#1a1a1a" stroke-width="0.9"/>
<line x1="395.00" y1="176.23" x2="397.50" y2="176.23" stroke="#1a1a1a" stroke-width="0.9"/>
<line x1="395.00" y1="171.56" x2="397.50" y2="171.56" stroke="#1a1a1a" stroke-width="0.9"/>
<line x1="395.00" y1="167.93" x2="397.50" y2="167.93" stroke="#1a1a1a" stroke-width="0.9"/>
<line x1="395.00" y1="164.97" x2="397.50" y2="164.97" stroke="#1a1a1a" stroke-width="0.9"/>
<line x1="395.00" y1="162.46" x2="397.50" y2="162.46" stroke="#1a1a1a" stroke-width="0.9"/>
<line x1="395.00" y1="160.29" x2="397.50" y2="160.29" stroke="#1a1a1a" stroke-width="0.9"/>
<line x1="395.00" y1="158.38" x2="397.50" y2="158.38" stroke="#1a1a1a" stroke-width="0.9"/>
<text x="386.20" y="198.08" font-size="12" text-anchor="end" font-family="'Liberation Serif', serif" fill="#2e2e2e">10</text>
<text x="386.10" y="193.68" font-size="8.3" font-family="'Liberation Serif', serif" fill="#2e2e2e">1</text>
<line x1="393.50" y1="156.67" x2="397.50" y2="156.67" stroke="#1a1a1a" stroke-width="1"/>
<line x1="395.00" y1="145.40" x2="397.50" y2="145.40" stroke="#1a1a1a" stroke-width="0.9"/>
<line x1="395.00" y1="138.81" x2="397.50" y2="138.81" stroke="#1a1a1a" stroke-width="0.9"/>
<line x1="395.00" y1="134.14" x2="397.50" y2="134.14" stroke="#1a1a1a" stroke-width="0.9"/>
<line x1="395.00" y1="130.51" x2="397.50" y2="130.51" stroke="#1a1a1a" stroke-width="0.9"/>
<line x1="395.00" y1="127.55" x2="397.50" y2="127.55" stroke="#1a1a1a" stroke-width="0.9"/>
<line x1="395.00" y1="125.05" x2="397.50" y2="125.05" stroke="#1a1a1a" stroke-width="0.9"/>
<line x1="395.00" y1="122.88" x2="397.50" y2="122.88" stroke="#1a1a1a" stroke-width="0.9"/>
<line x1="395.00" y1="120.96" x2="397.50" y2="120.96" stroke="#1a1a1a" stroke-width="0.9"/>
<text x="386.20" y="160.67" font-size="12" text-anchor="end" font-family="'Liberation Serif', serif" fill="#2e2e2e">10</text>
<text x="386.10" y="156.27" font-size="8.3" font-family="'Liberation Serif', serif" fill="#2e2e2e">2</text>
<line x1="393.50" y1="119.25" x2="397.50" y2="119.25" stroke="#1a1a1a" stroke-width="1"/>
<line x1="395.00" y1="107.99" x2="397.50" y2="107.99" stroke="#1a1a1a" stroke-width="0.9"/>
<line x1="395.00" y1="101.40" x2="397.50" y2="101.40" stroke="#1a1a1a" stroke-width="0.9"/>
<line x1="395.00" y1="96.72" x2="397.50" y2="96.72" stroke="#1a1a1a" stroke-width="0.9"/>
<line x1="395.00" y1="93.10" x2="397.50" y2="93.10" stroke="#1a1a1a" stroke-width="0.9"/>
<line x1="395.00" y1="90.13" x2="397.50" y2="90.13" stroke="#1a1a1a" stroke-width="0.9"/>
<line x1="395.00" y1="87.63" x2="397.50" y2="87.63" stroke="#1a1a1a" stroke-width="0.9"/>
<line x1="395.00" y1="85.46" x2="397.50" y2="85.46" stroke="#1a1a1a" stroke-width="0.9"/>
<line x1="395.00" y1="83.55" x2="397.50" y2="83.55" stroke="#1a1a1a" stroke-width="0.9"/>
<text x="386.20" y="123.25" font-size="12" text-anchor="end" font-family="'Liberation Serif', serif" fill="#2e2e2e">10</text>
<text x="386.10" y="118.85" font-size="8.3" font-family="'Liberation Serif', serif" fill="#2e2e2e">3</text>
<line x1="393.50" y1="81.83" x2="397.50" y2="81.83" stroke="#1a1a1a" stroke-width="1"/>
<line x1="395.00" y1="70.57" x2="397.50" y2="70.57" stroke="#1a1a1a" stroke-width="0.9"/>
<line x1="395.00" y1="63.98" x2="397.50" y2="63.98" stroke="#1a1a1a" stroke-width="0.9"/>
<line x1="395.00" y1="59.31" x2="397.50" y2="59.31" stroke="#1a1a1a" stroke-width="0.9"/>
<line x1="395.00" y1="55.68" x2="397.50" y2="55.68" stroke="#1a1a1a" stroke-width="0.9"/>
<line x1="395.00" y1="52.72" x2="397.50" y2="52.72" stroke="#1a1a1a" stroke-width="0.9"/>
<line x1="395.00" y1="50.21" x2="397.50" y2="50.21" stroke="#1a1a1a" stroke-width="0.9"/>
<line x1="395.00" y1="48.04" x2="397.50" y2="48.04" stroke="#1a1a1a" stroke-width="0.9"/>
<line x1="395.00" y1="46.13" x2="397.50" y2="46.13" stroke="#1a1a1a" stroke-width="0.9"/>
<text x="386.20" y="85.83" font-size="12" text-anchor="end" font-family="'Liberation Serif', serif" fill="#2e2e2e">10</text>
<text x="386.10" y="81.43" font-size="8.3" font-family="'Liberation Serif', serif" fill="#2e2e2e">4</text>
<line x1="393.50" y1="44.42" x2="397.50" y2="44.42" stroke="#1a1a1a" stroke-width="1"/>
<line x1="395.00" y1="33.15" x2="397.50" y2="33.15" stroke="#1a1a1a" stroke-width="0.9"/>
<line x1="395.00" y1="26.56" x2="397.50" y2="26.56" stroke="#1a1a1a" stroke-width="0.9"/>
<line x1="395.00" y1="21.89" x2="397.50" y2="21.89" stroke="#1a1a1a" stroke-width="0.9"/>
<line x1="395.00" y1="18.26" x2="397.50" y2="18.26" stroke="#1a1a1a" stroke-width="0.9"/>
<line x1="395.00" y1="15.30" x2="397.50" y2="15.30" stroke="#1a1a1a" stroke-width="0.9"/>
<line x1="395.00" y1="12.80" x2="397.50" y2="12.80" stroke="#1a1a1a" stroke-width="0.9"/>
<line x1="395.00" y1="10.63" x2="397.50" y2="10.63" stroke="#1a1a1a" stroke-width="0.9"/>
<line x1="395.00" y1="8.71" x2="397.50" y2="8.71" stroke="#1a1a1a" stroke-width="0.9"/>
<text x="386.20" y="48.42" font-size="12" text-anchor="end" font-family="'Liberation Serif', serif" fill="#2e2e2e">10</text>
<text x="386.10" y="44.02" font-size="8.3" font-family="'Liberation Serif', serif" fill="#2e2e2e">5</text>
<line x1="393.50" y1="7.00" x2="397.50" y2="7.00" stroke="#1a1a1a" stroke-width="1"/>
<text x="386.20" y="11.00" font-size="12" text-anchor="end" font-family="'Liberation Serif', serif" fill="#2e2e2e">10</text>
<text x="386.10" y="6.60" font-size="8.3" font-family="'Liberation Serif', serif" fill="#2e2e2e">6</text>
<line x1="453.38" y1="231.5" x2="453.38" y2="235.5" stroke="#1a1a1a" stroke-width="1"/>
<line x1="509.26" y1="231.5" x2="509.26" y2="235.5" stroke="#1a1a1a" stroke-width="1"/>
<line x1="565.14" y1="231.5" x2="565.14" y2="235.5" stroke="#1a1a1a" stroke-width="1"/>
<line x1="621.02" y1="231.5" x2="621.02" y2="235.5" stroke="#1a1a1a" stroke-width="1"/>
<line x1="676.90" y1="231.5" x2="676.90" y2="235.5" stroke="#1a1a1a" stroke-width="1"/>
<text x="397.50" y="248.10" font-size="12" text-anchor="middle" font-family="'Liberation Serif', serif" fill="#2e2e2e">0.4</text>
<text x="453.38" y="248.10" font-size="12" text-anchor="middle" font-family="'Liberation Serif', serif" fill="#2e2e2e">0.5</text>
<text x="509.26" y="248.10" font-size="12" text-anchor="middle" font-family="'Liberation Serif', serif" fill="#2e2e2e">0.6</text>
<text x="565.14" y="248.10" font-size="12" text-anchor="middle" font-family="'Liberation Serif', serif" fill="#2e2e2e">0.7</text>
<text x="621.02" y="248.10" font-size="12" text-anchor="middle" font-family="'Liberation Serif', serif" fill="#2e2e2e">0.8</text>
<text x="676.90" y="248.10" font-size="12" text-anchor="middle" font-family="'Liberation Serif', serif" fill="#2e2e2e">0.9</text>
<line x1="425.44" y1="231.5" x2="425.44" y2="234.0" stroke="#1a1a1a" stroke-width="0.9"/>
<line x1="481.32" y1="231.5" x2="481.32" y2="234.0" stroke="#1a1a1a" stroke-width="0.9"/>
<line x1="537.20" y1="231.5" x2="537.20" y2="234.0" stroke="#1a1a1a" stroke-width="0.9"/>
<line x1="593.08" y1="231.5" x2="593.08" y2="234.0" stroke="#1a1a1a" stroke-width="0.9"/>
<line x1="648.96" y1="231.5" x2="648.96" y2="234.0" stroke="#1a1a1a" stroke-width="0.9"/>
<text x="537.25" y="268.9" font-size="12" text-anchor="middle" font-family="'Liberation Serif', serif" fill="#2e2e2e">Clay activity <tspan font-style="italic">α</tspan><tspan font-size="8" dy="2.5">c</tspan></text>
<text transform="translate(367.30,119.2) rotate(-90)" font-size="12" text-anchor="middle" font-family="'Liberation Serif', serif" fill="#2e2e2e">Matric suction <tspan font-style="italic">ψ</tspan><tspan font-size="8.6" dy="2.2" dx="-0.6">m</tspan><tspan dy="-2.2" dx="-0.7"> (kPa)</tspan></text>
<text x="361.3" y="9.7" font-size="13" font-weight="bold" font-family="'Liberation Serif', serif" fill="#111">b</text>
<text x="414.4" y="22.9" font-size="10.6" font-family="'Liberation Serif', serif" fill="#2e2e2e">Matric suction at considered water content <tspan font-style="italic">w</tspan></text>
<circle cx="426.00" cy="31.3" r="2.6" fill="#fff" stroke="#555555" stroke-width="0.75" stroke-opacity="0.85"/>
<text x="441.00" y="35.10" font-size="11" font-family="'Liberation Serif', serif" fill="#2e2e2e">6%</text>
<circle cx="474.45" cy="31.3" r="2.6" fill="#fff" stroke="#f27070" stroke-width="0.75" stroke-opacity="0.85"/>
<text x="489.45" y="35.10" font-size="11" font-family="'Liberation Serif', serif" fill="#2e2e2e">8%</text>
<circle cx="522.90" cy="31.3" r="2.6" fill="#fff" stroke="#6a9ae8" stroke-width="0.75" stroke-opacity="0.85"/>
<text x="537.90" y="35.10" font-size="11" font-family="'Liberation Serif', serif" fill="#2e2e2e">11%</text>
<circle cx="571.35" cy="31.3" r="2.6" fill="#fff" stroke="#6cbf8c" stroke-width="0.75" stroke-opacity="0.85"/>
<text x="586.35" y="35.10" font-size="11" font-family="'Liberation Serif', serif" fill="#2e2e2e">13%</text>
<circle cx="619.80" cy="31.3" r="2.6" fill="#fff" stroke="#c4a0ee" stroke-width="0.75" stroke-opacity="0.85"/>
<text x="634.80" y="35.10" font-size="11" font-family="'Liberation Serif', serif" fill="#2e2e2e">16%</text>
<line x1="414.10" y1="43.4" x2="423.40" y2="43.4" stroke="#e2b84a" stroke-width="0.85"/>
<line x1="428.60" y1="43.4" x2="437.90" y2="43.4" stroke="#e2b84a" stroke-width="0.85"/>
<circle cx="426.00" cy="43.4" r="2.6" fill="#fff" stroke="#e2b84a" stroke-width="0.75" stroke-opacity="0.85"/>
<text x="440.40" y="47.20" font-size="11" font-family="'Liberation Serif', serif" fill="#2e2e2e">18%</text>
<line x1="462.55" y1="43.4" x2="471.85" y2="43.4" stroke="#66d6e0" stroke-width="0.85"/>
<line x1="477.05" y1="43.4" x2="486.35" y2="43.4" stroke="#66d6e0" stroke-width="0.85"/>
<circle cx="474.45" cy="43.4" r="2.6" fill="#fff" stroke="#66d6e0" stroke-width="0.75" stroke-opacity="0.85"/>
<text x="488.85" y="47.20" font-size="11" font-family="'Liberation Serif', serif" fill="#2e2e2e">20%</text>
<line x1="511.00" y1="43.4" x2="520.30" y2="43.4" stroke="#a88888" stroke-width="0.85"/>
<line x1="525.50" y1="43.4" x2="534.80" y2="43.4" stroke="#a88888" stroke-width="0.85"/>
<circle cx="522.90" cy="43.4" r="2.6" fill="#fff" stroke="#a88888" stroke-width="0.75" stroke-opacity="0.85"/>
<text x="537.30" y="47.20" font-size="11" font-family="'Liberation Serif', serif" fill="#2e2e2e">22%</text>
<line x1="559.45" y1="43.4" x2="568.75" y2="43.4" stroke="#b4b462" stroke-width="0.85"/>
<line x1="573.95" y1="43.4" x2="583.25" y2="43.4" stroke="#b4b462" stroke-width="0.85"/>
<circle cx="571.35" cy="43.4" r="2.6" fill="#fff" stroke="#b4b462" stroke-width="0.75" stroke-opacity="0.85"/>
<text x="585.75" y="47.20" font-size="11" font-family="'Liberation Serif', serif" fill="#2e2e2e">24%</text>
<line x1="607.90" y1="43.4" x2="617.20" y2="43.4" stroke="#f59560" stroke-width="0.85"/>
<line x1="622.40" y1="43.4" x2="631.70" y2="43.4" stroke="#f59560" stroke-width="0.85"/>
<circle cx="619.80" cy="43.4" r="2.6" fill="#fff" stroke="#f59560" stroke-width="0.75" stroke-opacity="0.85"/>
<text x="634.20" y="47.20" font-size="11" font-family="'Liberation Serif', serif" fill="#2e2e2e">25%</text>
<text x="420.9" y="98.7" font-size="9.8" font-family="'Liberation Serif', serif" fill="#2e2e2e">WN</text>
<text x="491.2" y="103.4" font-size="9.8" font-family="'Liberation Serif', serif" fill="#2e2e2e">XA</text>
<text x="514.4" y="108.9" font-size="9.8" font-family="'Liberation Serif', serif" fill="#2e2e2e">XY</text>
<text x="576.0" y="114.3" font-size="9.8" font-family="'Liberation Serif', serif" fill="#2e2e2e">YL</text>
<text x="618.4" y="124.5" font-size="9.8" font-family="'Liberation Serif', serif" fill="#2e2e2e">BJ</text>
<rect x="433.6" y="163.6" width="209.6" height="41.7" fill="none" stroke="#2a2aff" stroke-width="1.3" stroke-dasharray="2.6,1.35" stroke-dashoffset="0.95"/>
<text x="437" y="202.4" font-size="9.6" font-weight="bold" font-family="'Liberation Serif', serif" fill="#111">Minor change with <tspan font-style="italic">α</tspan><tspan font-size="7" dy="2.6">c</tspan></text>
<g transform="translate(504.2,62.8) rotate(11.19)"><polygon points="0,-3.5 50.59,-3.5 50.59,-6.5 67.99,0 50.59,6.5 50.59,3.5 0,3.5" fill="#7a7a7a" opacity="0.35" transform="translate(0.3,1.1)" filter="url(#blur1)"/><polygon points="0,-3.5 50.59,-3.5 50.59,-6.5 67.99,0 50.59,6.5 50.59,3.5 0,3.5" fill="url(#go)"/></g>
<text x="573.7" y="79.0" font-size="9.6" font-weight="bold" font-family="'Liberation Serif', serif" fill="#111">Overall decline of <tspan font-style="italic">ψ</tspan><tspan font-size="7" dy="2">m</tspan></text>
</svg>
</body></html>
